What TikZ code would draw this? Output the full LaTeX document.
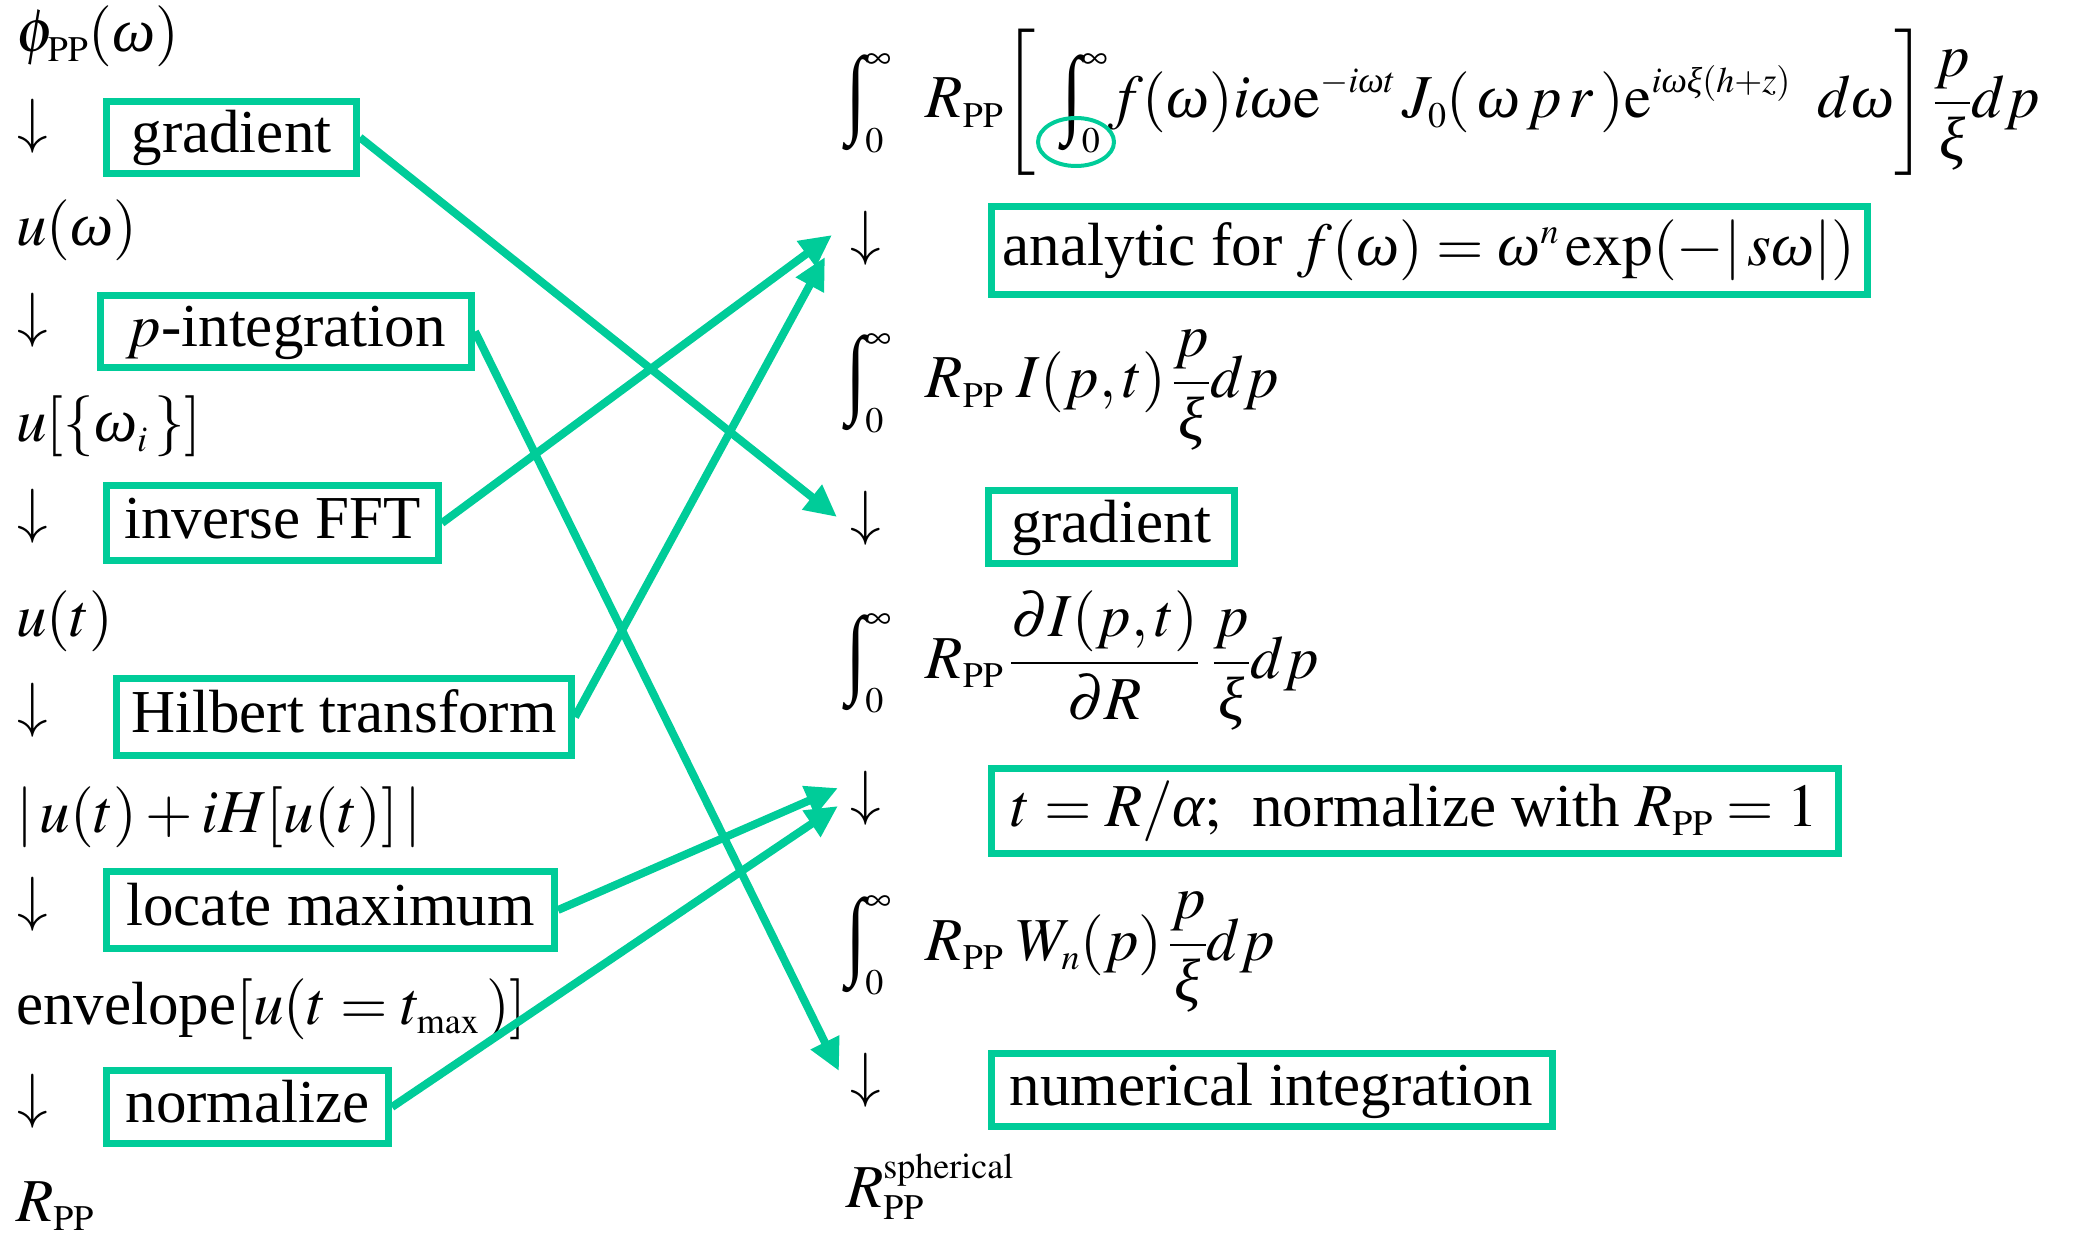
\documentclass[tikz,border=0pt]{standalone}
\usepackage{amsmath}
\usepackage{mathptmx}
\usepackage{fontspec}
\setmainfont{Liberation Serif}
\usetikzlibrary{arrows.meta,shapes.geometric}
\DeclareMathSizes{61}{61}{36}{28}
\definecolor{opgreen}{RGB}{0,204,153}
\newcommand\om{\text{\itshape ω}}
\newcommand\xx{\text{\itshape ξ}}
\newcommand\al{\text{\itshape α}}
\newcommand\Int{\mathop{\vcenter{\hbox{\scalebox{1.15}[1.6]{∫}}}}\nolimits}
\begin{document}
\begin{tikzpicture}[x=1pt,y=-1pt,
  every node/.style={font=\fontsize{61}{70}\selectfont, inner sep=0pt},
  txt/.style={anchor=base west},
  opbox/.style={draw=opgreen, line width=7pt, text height=44pt, text depth=13pt, align=center},
  dn/.style={anchor=center},
  link/.style={draw=opgreen, line width=8pt, -{Triangle[width=30pt,length=32pt]}},
  ring/.style={ellipse, draw=opgreen, line width=4pt}
]
\useasboundingbox (0,0) rectangle (2073,1238);

% left column
\node[txt] (phi) at (16,52) {$\phi_{\mathrm{PP}}(\om)$};
\node[dn] (a1) at (33,126) {$\downarrow$};
\node[opbox, minimum width=250pt, minimum height=72pt] (gL) at (231.5,137.5) {gradient};
\node[txt] (uw) at (16,246) {$u(\om)$};
\node[dn] (a2) at (33,320) {$\downarrow$};
\node[opbox, minimum width=371pt, minimum height=72pt] (pint) at (286,331.5) {$p$-integration};
\node[txt] (uwi) at (16,442) {$u[\{\om_{i}\,\}]$};
\node[dn] (a3) at (33,516.5) {$\downarrow$};
\node[opbox, minimum width=332pt, minimum height=75pt] (ifft) at (272.5,523) {inverse FFT};
\node[txt] (ut) at (16,636) {$u(t)$};
\node[dn] (a4) at (33,710.5) {$\downarrow$};
\node[opbox, minimum width=455pt, minimum height=77pt] (hilb) at (344,717) {Hilbert transform};
\node[txt] (uabs) at (16,832) {$|\,u(t)+iH[u(t)]\,|$};
\node[dn] (a5) at (33,904.5) {$\downarrow$};
\node[opbox, minimum width=448pt, minimum height=77pt] (locm) at (330.5,910) {locate maximum};
\node[txt] (envl) at (16,1024) {envelope$[u(t=t_{\mathrm{max}}\,)]$};
\node[dn] (a6) at (33,1101) {$\downarrow$};
\node[opbox, minimum width=282pt, minimum height=73pt] (norm) at (247.5,1107) {normalize};
\node[txt] (rpp) at (16,1221) {$R_{\mathrm{PP}}$};

% right column
\node[txt] (int1) at (846,118) {$\displaystyle\Int_0^\infty\;\; R_{\mathrm{PP}}\biggl[\;\;\Int_0^\infty\! f(\om)i\om\mathrm{e}^{-i\om t}\,J_0(\,\om\,p\,r\,)\mathrm{e}^{i\om\xx(h+z)}\;\;d\om\biggr]\,\frac{p}{\xx}dp$};
\node[ring, minimum width=76pt, minimum height=48pt] (circ) at (1076,142) {};
\node[dn] (b1) at (866,238.5) {$\downarrow$};
\node[opbox, minimum width=876pt, minimum height=88pt] (anal) at (1429,250.5) {analytic for $f(\om)=\om^n\exp(-|\,s\om|)$};
\node[txt] (int2) at (846,398) {$\displaystyle\Int_0^\infty\;\; R_{\mathrm{PP}}\;I(p,t)\,\frac{p}{\xx}dp$};
\node[dn] (b2) at (866,518.5) {$\downarrow$};
\node[opbox, minimum width=246pt, minimum height=73pt] (gR) at (1111,527) {gradient};
\node[txt] (int3) at (846,678) {$\displaystyle\Int_0^\infty\;\; R_{\mathrm{PP}}\,\frac{\partial I(p,t)}{\partial R}\;\frac{p}{\xx}dp$};
\node[dn] (b3) at (866,798.5) {$\downarrow$};
\node[opbox, minimum width=847pt, minimum height=85pt] (tR) at (1414.5,811) {$t=R/\al;$\enspace normalize with $R_{\mathrm{PP}}=1$};
\node[txt] (int4) at (846,960) {$\displaystyle\Int_0^\infty\;\; R_{\mathrm{PP}}\;W_n(p)\,\frac{p}{\xx}dp$};
\node[dn] (b4) at (866,1080.5) {$\downarrow$};
\node[opbox, minimum width=561pt, minimum height=73pt] (numi) at (1271.5,1090) {numerical integration};
\node[txt] (rsph) at (846,1207) {$R_{\mathrm{PP}}^{\mathrm{spherical}}$};

% connectors
\coordinate (tA) at (832,235);
\coordinate (tB) at (825,257);
\coordinate (tG) at (837,517);
\coordinate (tL) at (838,788);
\coordinate (tN) at (838,806);
\coordinate (tP) at (839,1071);
\draw[link] (gL.east) -- (tG);
\draw[link] (pint.east) -- (tP);
\draw[link] (ifft.east) -- (tA);
\draw[link] (hilb.east) -- (tB);
\draw[link] (locm.east) -- (tL);
\draw[link] (norm.east) -- (tN);
\end{tikzpicture}
\end{document}
